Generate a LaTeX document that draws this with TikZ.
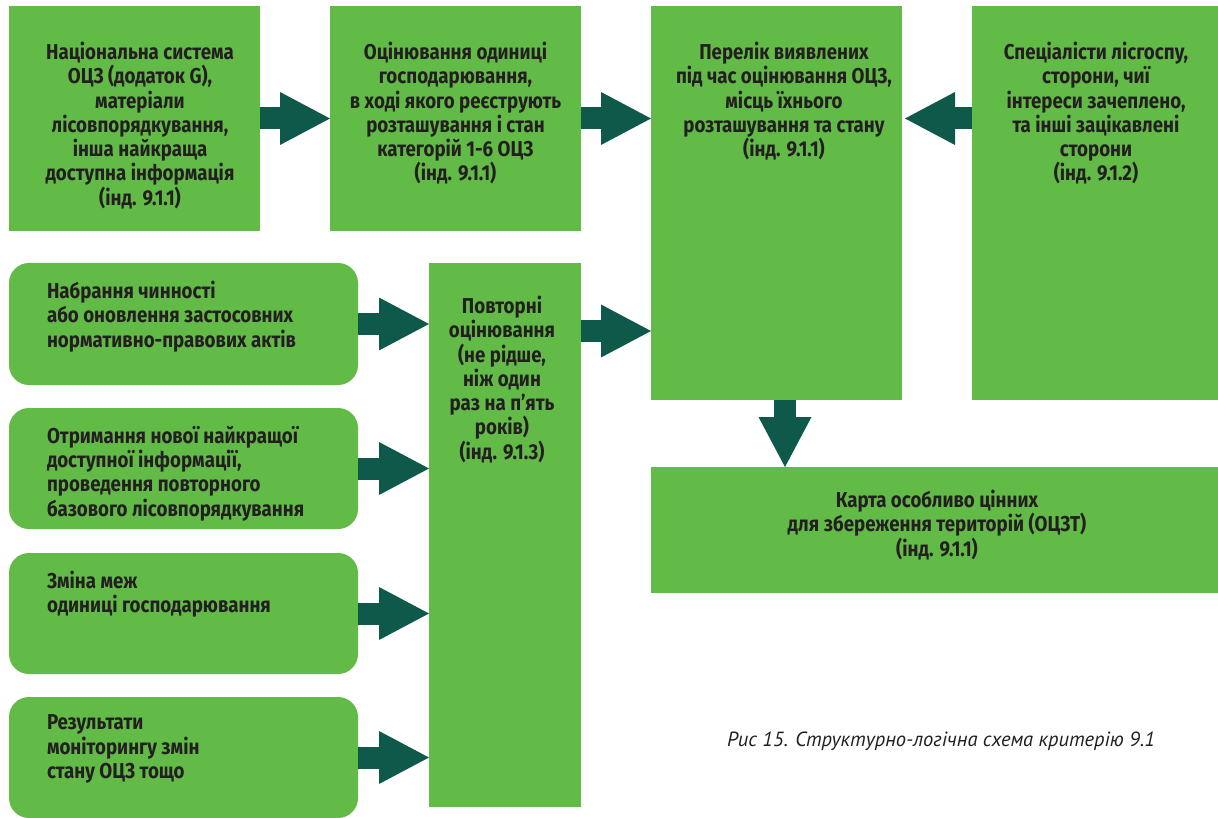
\documentclass[tikz,border=0pt]{standalone}
\usepackage{fontspec}
\setmainfont{PT Sans}
\newfontfamily\boxfont[FakeStretch=0.87]{Fira Sans}
\newfontfamily\capfont{PT Sans Italic}
\usetikzlibrary{arrows.meta}
\definecolor{boxgreen}{RGB}{98,187,70}
\definecolor{arrowgreen}{RGB}{15,89,74}
\definecolor{inkcol}{RGB}{35,31,32}
\begin{document}
\begin{tikzpicture}[x=1pt,y=-1pt,
  greenbox/.style={fill=boxgreen, draw=none, inner sep=0pt, outer sep=0pt, rectangle},
  roundbox/.style={greenbox, rounded corners=20pt},
  txt/.style={text=inkcol, font=\boxfont\bfseries\fontsize{21.5}{24.3}\selectfont, inner sep=0pt, outer sep=0pt},
  ctxt/.style={txt, align=center, anchor=north},
  ltxt/.style={txt, align=left, anchor=north west},
  blk/.style={draw=arrowgreen, line width=22pt, line cap=butt,
    -{Triangle[length=50pt,width=53pt,line width=0pt]}},
  captxt/.style={text=inkcol, font=\capfont\fontsize{20.5}{24}\selectfont, inner sep=0pt}
]
\useasboundingbox (0,0) rectangle (1218,818);

% boxes
\node[greenbox, minimum width=251pt, minimum height=225pt] (b1) at (134.5,118.5) {};
\node[greenbox, minimum width=251pt, minimum height=225pt] (b2) at (455.5,118.5) {};
\node[greenbox, minimum width=251pt, minimum height=394pt] (b3) at (776.5,203) {};
\node[greenbox, minimum width=246pt, minimum height=394pt] (b4) at (1095,203) {};
\node[greenbox, minimum width=567pt, minimum height=126pt] (b5) at (934.5,530) {};
\node[greenbox, minimum width=152pt, minimum height=544pt] (mid) at (505,535) {};
\node[roundbox, minimum width=349pt, minimum height=122pt] (rA) at (183.5,324) {};
\node[roundbox, minimum width=349pt, minimum height=121pt] (rB) at (183.5,468.5) {};
\node[roundbox, minimum width=349pt, minimum height=121pt] (rC) at (183.5,613.5) {};
\node[roundbox, minimum width=349pt, minimum height=121pt] (rD) at (183.5,757.5) {};

% texts
\node[ctxt] (t1) at (140,42) {Національна система\\ОЦЗ (додаток G),\\матеріали\\лісовпорядкування,\\інша найкраща\\доступна інформація\\(інд. 9.1.1)};
\node[ctxt] (t2) at (455.5,42) {Оцінювання одиниці\\господарювання,\\в ході якого реєструють\\розташування і стан\\категорій 1-6 ОЦЗ\\(інд. 9.1.1)};
\node[ctxt] (t3) at (784,42) {Перелік виявлених\\під час оцінювання ОЦЗ,\\місць їхнього\\розташування та стану\\(інд. 9.1.1)};
\node[ctxt] (t4) at (1096,42) {Спеціалісти лісгоспу,\\сторони, чиї\\інтереси зачеплено,\\та інші зацікавлені\\сторони\\(інд. 9.1.2)};
\node[ctxt] (tm) at (502,296) {Повторні\\оцінювання\\(не рідше,\\ніж один\\раз на п’ять\\років)\\(інд. 9.1.3)};
\node[ctxt] (t5) at (937,490) {Карта особливо цінних\\для збереження територій (ОЦЗТ)\\(інд. 9.1.1)};
\node[ltxt] (tA) at (47,281) {Набрання чинності\\або оновлення застосовних\\нормативно-правових актів};
\node[ltxt] (tB) at (47,426) {Отримання нової найкращої\\доступної інформації,\\проведення повторного\\базового лісовпорядкування};
\node[ltxt] (tC) at (47,571) {Зміна меж\\одиниці господарювання};
\node[ltxt] (tD) at (47,715) {Результати\\моніторингу змін\\стану ОЦЗ тощо};

\node[captxt] (cap) at (941,741) {Рис 15. Структурно-логічна схема критерію 9.1};

% arrows
\draw[blk] (b1.east) -- (b2.west);
\draw[blk] (b2.east) -- (b3.west |- b2.east);
\draw[blk] (b4.west |- b1.east) -- ([xshift=3pt]b3.east |- b1.east);
\draw[blk] (rA.east) -- (mid.west |- rA.east);
\draw[blk] (rB.east) -- (mid.west |- rB.east);
\draw[blk] (rC.east) -- (mid.west |- rC.east);
\draw[blk] (rD.east) -- (mid.west |- rD.east);
\draw[blk] ([yshift=-68pt]mid.north east) coordinate (mo) -- (b3.west |- mo);
\draw[blk] ([xshift=8.5pt]b3.south) coordinate (bo) -- (bo |- b5.north);
\end{tikzpicture}
\end{document}
